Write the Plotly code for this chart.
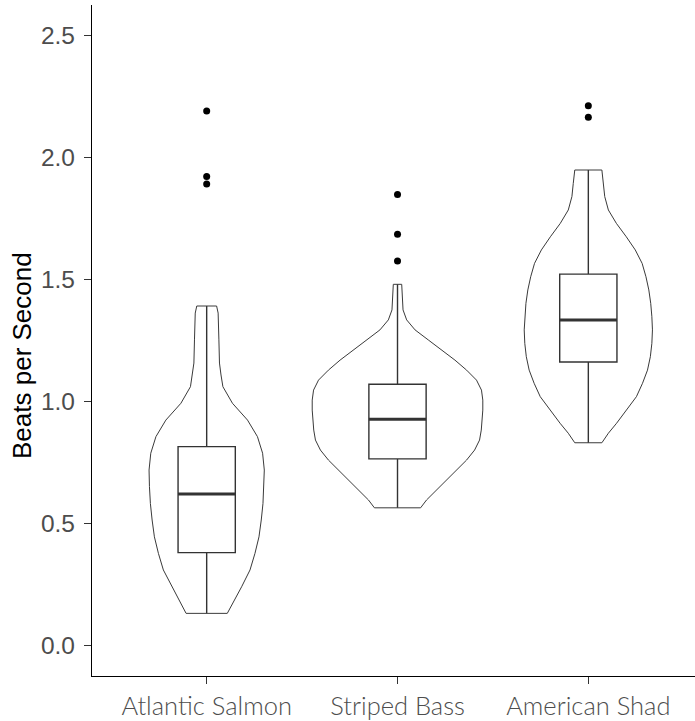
import plotly.graph_objects as go

# Species on the x axis
species = ["Atlantic Salmon", "Striped Bass", "American Shad"]

# Violin outlines: heart-rate levels and the half-width of the density at each level
salmon_levels = [1.391, 1.362, 1.252, 1.157, 1.108, 1.060, 0.992, 0.923, 0.855, 0.787,
                 0.718, 0.650, 0.581, 0.513, 0.444, 0.376, 0.308, 0.239, 0.171, 0.130]
salmon_halfwidth = [0.052, 0.060, 0.064, 0.067, 0.075, 0.085, 0.135, 0.214, 0.266, 0.293,
                    0.302, 0.300, 0.295, 0.286, 0.274, 0.253, 0.227, 0.183, 0.135, 0.108]

bass_levels = [1.480, 1.375, 1.334, 1.293, 1.252, 1.210, 1.169, 1.128, 1.087, 1.046,
               1.005, 0.964, 0.923, 0.882, 0.841, 0.800, 0.759, 0.718, 0.677, 0.636,
               0.595, 0.563]
bass_halfwidth = [0.022, 0.029, 0.048, 0.092, 0.161, 0.231, 0.301, 0.362, 0.414, 0.440,
                  0.447, 0.447, 0.444, 0.439, 0.430, 0.404, 0.362, 0.309, 0.257, 0.204,
                  0.152, 0.121]

shad_levels = [1.949, 1.894, 1.840, 1.785, 1.730, 1.675, 1.621, 1.566, 1.511, 1.457,
               1.402, 1.347, 1.293, 1.238, 1.183, 1.128, 1.074, 1.019, 0.964, 0.910,
               0.869, 0.830]
shad_halfwidth = [0.071, 0.079, 0.086, 0.105, 0.147, 0.199, 0.246, 0.282, 0.302, 0.317,
                  0.327, 0.333, 0.336, 0.333, 0.325, 0.310, 0.284, 0.252, 0.201, 0.148,
                  0.105, 0.071]

# Box-plot summaries (beats per second)
q1 = [0.379, 0.764, 1.161]
median = [0.620, 0.926, 1.334]
q3 = [0.814, 1.070, 1.522]
lower_whisker = [0.130, 0.563, 0.830]
upper_whisker = [1.391, 1.480, 1.949]

# Outlying observations
salmon_outliers = [2.191, 1.922, 1.892]
bass_outliers = [1.849, 1.685, 1.576]
shad_outliers = [2.213, 2.165]

BOX_WIDTH = 0.30
LINE_COL = "#333333"

fig = go.Figure()

profiles = [(salmon_levels, salmon_halfwidth),
            (bass_levels, bass_halfwidth),
            (shad_levels, shad_halfwidth)]

# Violin outlines (trimmed at the data range; the background is white, so no fill)
for i, (lv, hw) in enumerate(profiles):
    xs = [i + w for w in hw] + [i - w for w in reversed(hw)] + [i + hw[0]]
    ys = list(lv) + list(reversed(lv)) + [lv[0]]
    fig.add_trace(go.Scatter(
        x=xs, y=ys, mode="lines",
        line=dict(color="#3a3a3a", width=1),
        hoverinfo="skip", showlegend=False))

# Boxes drawn from summary statistics
for i in range(3):
    fig.add_trace(go.Box(
        x=[i], q1=[q1[i]], median=[median[i]], q3=[q3[i]],
        lowerfence=[lower_whisker[i]], upperfence=[upper_whisker[i]],
        orientation="v", width=BOX_WIDTH, fillcolor="white", whiskerwidth=0,
        line=dict(color=LINE_COL, width=1.4), boxpoints=False, showlegend=False))
    # heavier median bar
    fig.add_trace(go.Scatter(
        x=[i - BOX_WIDTH / 2, i + BOX_WIDTH / 2], y=[median[i], median[i]],
        mode="lines", line=dict(color=LINE_COL, width=3), hoverinfo="skip",
        showlegend=False))

# Outliers
for i, pts in enumerate([salmon_outliers, bass_outliers, shad_outliers]):
    fig.add_trace(go.Scatter(
        x=[i] * len(pts), y=pts, mode="markers",
        marker=dict(color="black", size=7), showlegend=False))

fig.update_layout(
    width=695, height=721,
    margin=dict(l=92, r=0, t=5, b=45),
    paper_bgcolor="white", plot_bgcolor="white",
    showlegend=False, boxmode="overlay",
    xaxis=dict(
        range=[-0.601, 2.559], tickmode="array", tickvals=[0, 1, 2], ticktext=species,
        showline=True, linecolor="black", linewidth=1.3, mirror=False,
        ticks="outside", ticklen=7, tickwidth=1.2, tickcolor=LINE_COL,
        showgrid=False, zeroline=False,
        tickfont=dict(family="Lato", size=25.5, color="#4d4d4d", weight=300)),
    yaxis=dict(
        range=[-0.127, 2.626], tickmode="array", tickvals=[0, 0.5, 1, 1.5, 2, 2.5],
        ticktext=["0.0", "0.5", "1.0", "1.5", "2.0", "2.5"],
        showline=True, linecolor="black", linewidth=1.3,
        ticks="outside", ticklen=7, tickwidth=1.2, tickcolor=LINE_COL,
        showgrid=False, zeroline=False, ticklabelstandoff=4,
        tickfont=dict(family="Liberation Sans", size=24.5, color="#4d4d4d")),
    annotations=[dict(
        text="Beats per Second", textangle=-90, showarrow=False,
        xref="paper", yref="paper", x=(22 - 92) / 603, y=(676 - 356) / 671,
        xanchor="center", yanchor="middle",
        font=dict(family="Liberation Sans", size=26, color="black"))],
)

fig.write_html("out.html")
